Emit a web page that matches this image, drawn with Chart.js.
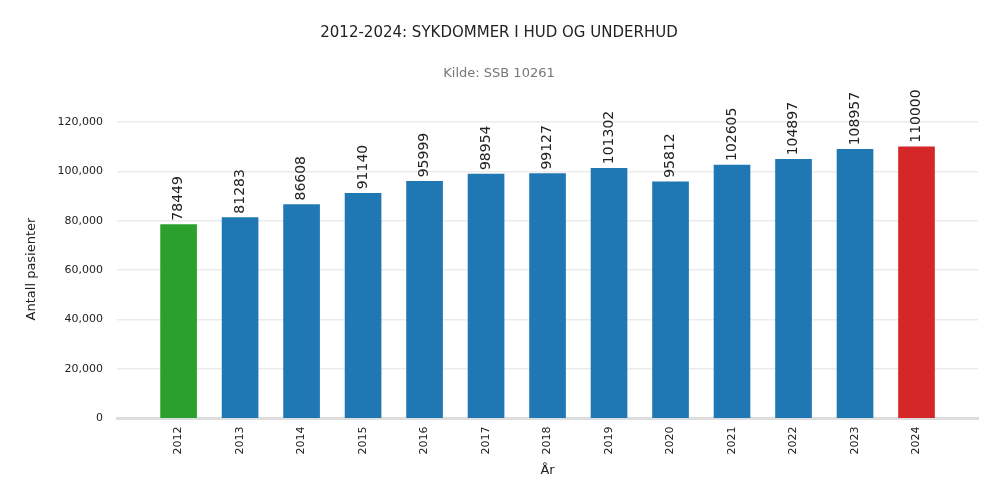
<!DOCTYPE html>
<html>
<head>
<meta charset="utf-8">
<script src="https://cdn.jsdelivr.net/npm/chart.js@4"></script>
<style>
  body { margin: 0; background: #fff; }
  #wrap { width: 1000px; height: 500px; }
</style>
</head>
<body>
<div id="wrap"><canvas id="myChart"></canvas></div>
<script>
const years = ['2012','2013','2014','2015','2016','2017','2018','2019','2020','2021','2022','2023','2024'];
const patients = [78449, 81283, 86608, 91140, 95999, 98954, 99127, 101302, 95812, 102605, 104897, 108957, 110000];
const yTicks = [0, 20000, 40000, 60000, 80000, 100000, 120000];
const colors = years.map((y, i) => i == 0 ? '#2ca02c' : (i == years.length - 1 ? '#d62728' : '#1f77b4'));

// blank categories at both ends give the padding
const labels = [''].concat(years, ['']);
const values = [null].concat(patients, [null]);
const barColors = ['#fff'].concat(colors, ['#fff']);

const valueLabels = {
  id: 'valueLabels',
  afterDatasetsDraw(chart) {
    const ctx = chart.ctx;
    const meta = chart.getDatasetMeta(0);
    ctx.save();
    ctx.font = '14px "DejaVu Sans"';
    ctx.fillStyle = '#222';
    ctx.textAlign = 'left';
    ctx.textBaseline = 'middle';
    meta.data.forEach((bar, i) => {
      if (values[i] == null) return;
      ctx.save();
      ctx.translate(bar.x, bar.y - 4);
      ctx.rotate(-Math.PI / 2);
      ctx.fillText(String(values[i]), 0, 0);
      ctx.restore();
    });
    ctx.restore();
  }
};

new Chart(document.getElementById('myChart'), {
  type: 'bar',
  data: {
    labels: labels,
    datasets: [{ data: values, backgroundColor: barColors, barThickness: 36 }]
  },
  plugins: [valueLabels],
  options: {
    responsive: true,
    maintainAspectRatio: false,
    animation: false,
    layout: { padding: { left: 20, right: 22, top: 10, bottom: 22 } },
    plugins: {
      legend: { display: false },
      tooltip: { enabled: false },
      title: {
        display: true,
        text: '2012-2024: SYKDOMMER I HUD OG UNDERHUD',
        color: '#222',
        font: { family: 'DejaVu Sans', size: 15, weight: 'normal' },
        padding: { top: 14, bottom: 24 }
      },
      subtitle: {
        display: true,
        text: 'Kilde: SSB 10261',
        color: '#777',
        font: { family: 'DejaVu Sans', size: 13 },
        padding: { bottom: 38 }
      }
    },
    scales: {
      x: {
        offset: false,
        grid: { display: false, drawTicks: false },
        border: { color: '#ddd', width: 3 },
        ticks: {
          maxRotation: 90, minRotation: 90, autoSkip: false,
          color: '#222', padding: 8,
          font: { family: 'DejaVu Sans', size: 11 }
        },
        title: { display: true, text: 'År', color: '#222', padding: 0,
          font: { family: 'DejaVu Sans', size: 13 } }
      },
      y: {
        min: 0, max: 121000,
        afterBuildTicks: axis => { axis.ticks = yTicks.map(v => ({ value: v })); },
        grid: { color: '#ebebeb', lineWidth: 1.5, drawTicks: false },
        border: { display: false },
        ticks: {
          color: '#222', padding: 14,
          font: { family: 'DejaVu Sans', size: 11 }
        },
        title: { display: true, text: 'Antall pasienter', color: '#222',
          font: { family: 'DejaVu Sans', size: 13 } }
      }
    }
  }
});
</script>
</body>
</html>
